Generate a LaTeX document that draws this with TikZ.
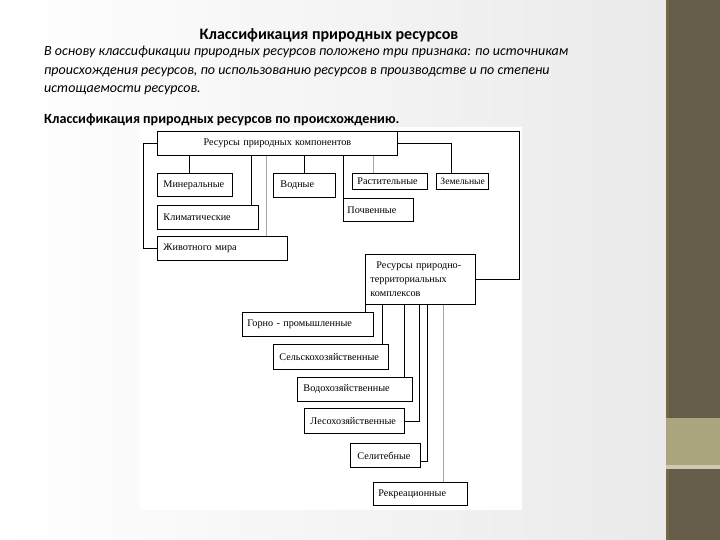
\documentclass[tikz,border=0pt]{standalone}
\usepackage{fontspec}
\setmainfont{Carlito}
\newfontfamily\dgfont{Liberation Serif}
\usetikzlibrary{calc}
\definecolor{strip}{RGB}{101,93,74}
\definecolor{stripline}{RGB}{112,104,70}
\definecolor{band}{RGB}{171,166,127}
\definecolor{bgr}{RGB}{234,234,234}
\begin{document}
\begin{tikzpicture}[x=1pt,y=-1pt,
  box/.style={draw, line width=0.9pt, inner xsep=0pt, inner ysep=0pt, anchor=north west,
    font=\dgfont\fontsize{10.2}{13.8}\selectfont, align=left},
  ln/.style={line width=0.8pt},
  lg/.style={line width=0.8pt, gray!70},
  txt/.style={anchor=base west, inner sep=0pt}]
\useasboundingbox (0,0) rectangle (720,540);
% background
\shade[left color=white, right color=bgr] (0,0) rectangle (666,540);
\fill[white] (140,127) rectangle (522,510);
\fill[strip] (666,0) rectangle (720,540);
\fill[stripline] (666,0) rectangle (669,540);
\fill[band] (666,418) rectangle (720,465);
\fill[band!60!white] (666,465) rectangle (720,469);

% texts
\node[anchor=base, inner sep=0pt, font=\bfseries\fontsize{16}{19}\selectfont] (title) at (329,40) {Классификация природных ресурсов};
\node[txt, font=\itshape\fontsize{14}{16}\selectfont] (p1) at (44,56) {В основу классификации природных ресурсов положено три признака: по источникам};
\node[txt, font=\itshape\fontsize{14}{16}\selectfont] (p2) at (44,75) {происхождения ресурсов, по использованию ресурсов в производстве и по степени};
\node[txt, font=\itshape\fontsize{14}{16}\selectfont] (p3) at (44,93) {истощаемости ресурсов.};
\node[txt, font=\bfseries\fontsize{14.1}{16}\selectfont] (h2) at (44,124) {Классификация природных ресурсов по происхождению.};

% boxes
\node[box, text width=240pt, minimum height=24pt, align=center] (top) at (157,131) {Ресурсы природных компонентов};
\node[box, text width=75pt, minimum height=23pt] (min) at (157,173) {\hspace*{6pt}Минеральные};
\node[box, text width=101pt, minimum height=24pt] (klim) at (157,205) {\hspace*{6pt}Климатические};
\node[box, text width=130pt, minimum height=24pt] (zhiv) at (157,236) {\hspace*{6pt}Животного мира};
\node[box, text width=62pt, minimum height=24pt] (vod) at (273,173) {\hspace*{7pt}Водные};
\node[box, text width=75pt, minimum height=16pt] (rast) at (352,173) {\hspace*{5pt}Растительные};
\node[box, text width=52pt, minimum height=16pt, font=\dgfont\fontsize{9.6}{13.8}\selectfont] (zem) at (436,173) {\hspace*{4pt}Земельные};
\node[box, text width=70pt, minimum height=23pt] (poch) at (343,198) {\hspace*{4pt}Почвенные};
\node[box, text width=110pt, minimum height=50pt] (ptk) at (365,254) {\hspace*{11pt}Ресурсы природно-\\\hspace*{5pt}территориальных\\\hspace*{5pt}комплексов};
\node[box, text width=131pt, minimum height=24pt] (gorno) at (242,312) {\hspace*{5pt}Горно - промышленные};
\node[box, text width=115pt, minimum height=25pt] (selsk) at (273,344) {\hspace*{6pt}Сельскохозяйственные};
\node[box, text width=115pt, minimum height=24pt] (vodo) at (297,377) {\hspace*{6pt}Водохозяйственные};
\node[box, text width=100pt, minimum height=25pt] (les) at (304,408) {\hspace*{6pt}Лесохозяйственные};
\node[box, text width=70pt, minimum height=24pt] (sel) at (350,443) {\hspace*{7pt}Селитебные};
\node[box, text width=94pt, minimum height=23pt] (rek) at (373,482) {\hspace*{5pt}Рекреационные};

% connectors: natural components
\draw[ln] (top.west) -- ++(-14,0) |- (zhiv.west);
\draw[ln] ([xshift=-5.5pt]min.north) -- ([xshift=-5.5pt]min.north |- top.south);
\draw[ln] ([xshift=-8pt]klim.north east) -- ([xshift=-8pt]klim.north east |- top.south);
\draw[lg] ([xshift=109pt]zhiv.north west) -- ([xshift=109pt]zhiv.north west |- top.south);
\draw[ln] (vod.north) -- (vod.north |- top.south);
\draw[ln] (poch.south west) -- (poch.south west |- top.south);
\draw[lg] ([xshift=21pt]rast.north west) -- ([xshift=21pt]rast.north west |- top.south);
\draw[ln] (top.east) -| ([xshift=15pt]zem.north west);
\draw[ln] (top.north east) -| ($(ptk.east)+(43,0)$) -- (ptk.east);

% connectors: territorial complexes
\draw[ln] (ptk.south west) -- (ptk.south west |- gorno.north);
\draw[ln] ([xshift=17pt]ptk.south west) -- ([xshift=17pt]ptk.south west |- selsk.north);
\draw[ln] ([xshift=39pt]ptk.south west) -- ([xshift=39pt]ptk.south west |- vodo.north);
\draw[ln] ([xshift=54pt]ptk.south west) |- (les.east);
\draw[ln] ([xshift=62pt]ptk.south west) |- ([yshift=-6pt]sel.east);
\draw[lg] ([xshift=78pt]ptk.south west) -- ([xshift=78pt]ptk.south west |- rek.north);
\end{tikzpicture}
\end{document}
